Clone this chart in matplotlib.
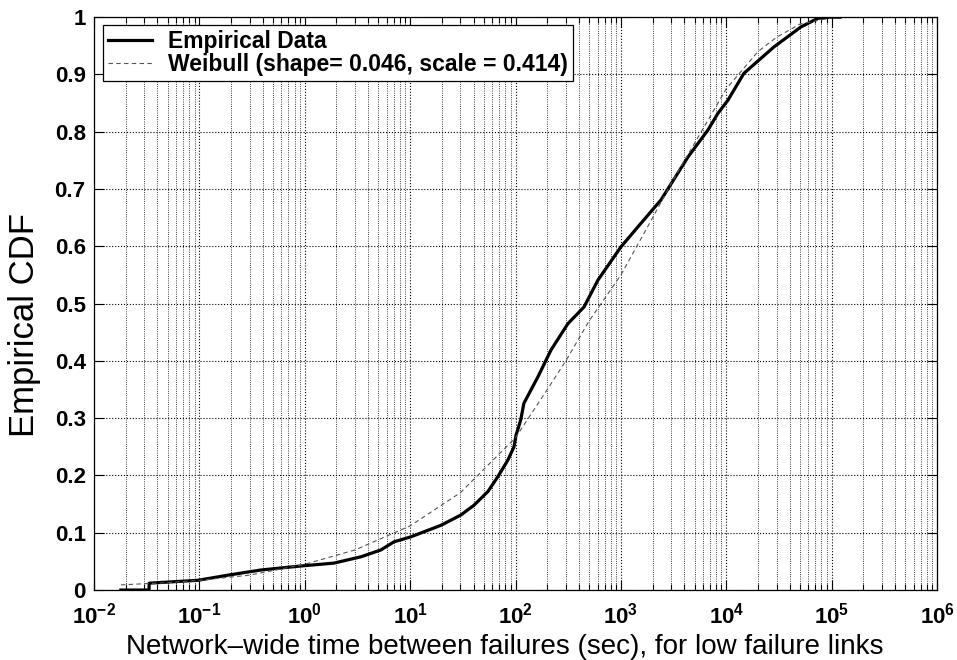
import matplotlib
matplotlib.use("Agg")
import matplotlib.pyplot as plt
from matplotlib.ticker import FixedLocator, NullFormatter

plt.rcParams['font.family'] = ['Liberation Sans', 'DejaVu Sans']
plt.rcParams['mathtext.default'] = 'regular'

# empirical CDF (seconds, fraction)
emp_x = [0.018, 0.0333, 0.0334, 0.097, 0.187, 0.384, 0.92, 1.89, 3.41, 5.28, 7.0,
         10.2, 19.6, 30.3, 40.3, 54.7, 68, 84.7, 96.6, 101, 112, 120, 163, 217,
         314, 446, 605, 1000, 1450, 2400, 4330, 6690, 8320, 10350, 14690, 28300,
         51100, 74000, 98200, 120000]
emp_y = [0.0, 0.0, 0.012, 0.017, 0.026, 0.035, 0.042, 0.047, 0.058, 0.07, 0.084,
         0.093, 0.113, 0.131, 0.148, 0.172, 0.198, 0.227, 0.25, 0.27, 0.297, 0.326,
         0.372, 0.419, 0.465, 0.494, 0.541, 0.599, 0.634, 0.681, 0.756, 0.803,
         0.832, 0.855, 0.902, 0.948, 0.983, 0.998, 1.0, 1.0]

# fitted weibull curve, also
wb_x = [0.018, 0.05, 0.1, 0.3, 1, 3, 10, 30, 100, 200, 300, 500, 1000, 2000,
        3000, 5000, 10000, 20000, 30000, 50000, 100000, 200000]
wb_y = [0.009, 0.013, 0.017, 0.026, 0.045, 0.07, 0.112, 0.17, 0.266, 0.35,
        0.40, 0.47, 0.55, 0.65, 0.71, 0.78, 0.875, 0.94, 0.965, 0.988, 0.999, 1.0]

x_ticks = [1e-2, 1e-1, 1e0, 1e1, 1e2, 1e3, 1e4, 1e5, 1e6]
y_ticks = [0, 0.1, 0.2, 0.3, 0.4, 0.5, 0.6, 0.7, 0.8, 0.9, 1]
y_labels = ['0', '0.1', '0.2', '0.3', '0.4', '0.5', '0.6', '0.7', '0.8', '0.9', '1']

fig = plt.figure(figsize=(9.57, 6.6), dpi=100)
ax = fig.add_axes([0.0982, 0.106, 0.881, 0.868])

ax.semilogx(emp_x, emp_y, color='black', lw=2.3, label='Empirical Data')
ax.semilogx(wb_x, wb_y, color='#555555', lw=0.8, ls=(0, (4, 3)),
            label='Weibull (shape= 0.046, scale = 0.414)')

ax.set_xlim(1e-2, 1e6)
ax.set_ylim(0, 1)
minor = [m * 10.0 ** e for e in range(-2, 6) for m in range(2, 10)]
ax.xaxis.set_major_locator(FixedLocator(x_ticks))
ax.xaxis.set_minor_locator(FixedLocator(minor))
ax.xaxis.set_minor_formatter(NullFormatter())
ax.set_xticks(x_ticks)
ax.set_xticklabels([r'$10^{%d}$' % e for e in range(-2, 7)])
ax.set_yticks(y_ticks)
ax.set_yticklabels(y_labels)

ax.grid(True, which='major', axis='both', ls=':', color='black', lw=0.8)
ax.grid(True, which='minor', axis='x', ls=':', color='black', lw=0.6)

ax.tick_params(which='both', direction='in', top=True, right=True, width=0.8)
ax.tick_params(axis='y', which='major', length=7, labelsize=16, pad=6)
ax.tick_params(axis='x', which='major', length=7, labelsize=16, pad=9)
ax.tick_params(which='minor', length=4)
for lab in ax.get_xticklabels() + ax.get_yticklabels():
    lab.set_fontweight('bold')
for s in ax.spines.values():
    s.set_linewidth(0.9)

ax.set_xlabel('Network\u2013wide time between failures (sec), for low failure links',
              fontsize=20)
ax.xaxis.set_label_coords(0.4875, -0.077)
ax.set_ylabel('Empirical CDF', fontsize=25)
ax.yaxis.set_label_coords(-0.063, 0.462)

leg = ax.legend(loc='upper left', bbox_to_anchor=(0.0107, 0.986), borderaxespad=0,
                prop={'size': 16.5, 'weight': 'bold'}, fancybox=False, framealpha=1,
                edgecolor='black', handlelength=1.9, handletextpad=0.7,
                borderpad=0.22, labelspacing=0.0)
leg.get_frame().set_linewidth(0.9)

fig.savefig('out.png', dpi=100)
